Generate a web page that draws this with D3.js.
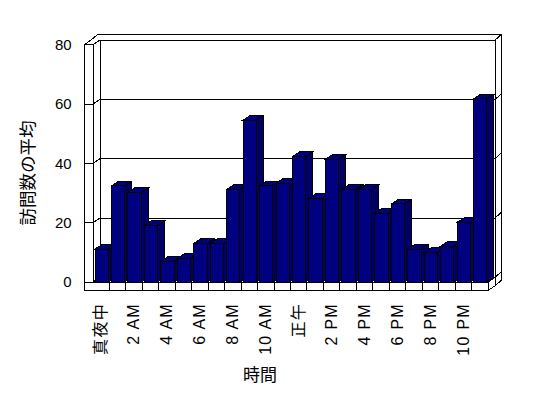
<!DOCTYPE html>
<html><head><meta charset="utf-8">
<script src="https://cdn.jsdelivr.net/npm/d3@7"></script>
<style>body{margin:0;background:#fff}svg{display:block}</style>
</head><body>
<script>
// ---- data ----
const hours = d3.range(24);
const visits = [11.1, 32.4, 30.2, 19.1, 7.0, 8.0, 13.0, 13.0, 31.2, 54.6, 32.4, 33.3,
                42.3, 28.2, 41.4, 31.2, 31.2, 23.2, 26.3, 11.1, 10.0, 12.1, 20.1, 61.7];
const labelHours = [0, 2, 4, 6, 8, 10, 12, 14, 16, 18, 20, 22];
const hourLabels = ["真夜中", "2 AM", "4 AM", "6 AM", "8 AM", "10 AM", "正午", "2 PM", "4 PM", "6 PM", "8 PM", "10 PM"];
const yTicks = [0, 20, 40, 60, 80];
const yTitle = "訪問数の平均";
const xTitle = "時間";

// ---- layout ----
const W = 548, H = 398;
const svg = d3.select("body").append("svg").attr("width", W).attr("height", H);
svg.append("rect").attr("width", W).attr("height", H).attr("fill", "#fff");

const x = d3.scaleBand().domain(hours).range([93, 488]);
const y = d3.scaleLinear().domain([0, 80]).range([282, 44.7]);
const D = [7, -4.6];      // depth of floor / bars
const T = [6.6, -5.9];    // wall thickness
const wallL = 84.7, floorBottom = 290.5;
const x0 = x.range()[0], x1 = x.range()[1], yTop = y(80), yZero = y(0);
const poly = pts => "M" + pts.map(p => p.join(",")).join("L") + "Z";
const seg = (a, b) => "M" + a.join(",") + "L" + b.join(",");

const g = svg.append("g").attr("shape-rendering", "crispEdges");
const face = (pts, fill) => g.append("path").attr("d", poly(pts)).attr("fill", fill)
  .attr("stroke", "#000").attr("stroke-width", 1).attr("stroke-linejoin", "miter");
const ln = (a, b) => g.append("path").attr("d", seg(a, b)).attr("stroke", "#000").attr("stroke-width", 1).attr("fill", "none");

// back wall inner face
face([[x0 + D[0], yTop + D[1]], [x1 + D[0], yTop + D[1]], [x1 + D[0], yZero + D[1]], [x0 + D[0], yZero + D[1]]], "#fff");
yTicks.forEach(v => ln([x0 + D[0], y(v) + D[1]], [x1 + D[0], y(v) + D[1]]));
// left wall inner face
face([[x0, yTop], [x0 + D[0], yTop + D[1]], [x0 + D[0], yZero + D[1]], [x0, yZero]], "#fff");
yTicks.forEach(v => ln([x0, y(v)], [x0 + D[0], y(v) + D[1]]));
// top of walls
face([[wallL, yTop], [x0, yTop], [x0 + D[0], yTop + D[1]], [x1 + D[0], yTop + D[1]],
      [x1 + D[0] + T[0], yTop + D[1] + T[1]], [wallL + D[0] + T[0], yTop + D[1] + T[1]]], "#fff");
// right face of back wall
face([[x1 + D[0], yTop + D[1]], [x1 + D[0] + T[0], yTop + D[1] + T[1]],
      [x1 + D[0] + T[0], floorBottom + D[1] + T[1]], [x1 + D[0], floorBottom + D[1]]], "#fff");
yTicks.forEach(v => ln([x1 + D[0], y(v) + D[1]], [x1 + D[0] + T[0], y(v) + D[1] + T[1]]));
// floor top & right
face([[x0, yZero], [x1, yZero], [x1 + D[0], yZero + D[1]], [x0 + D[0], yZero + D[1]]], "#fff");
face([[x1, yZero], [x1 + D[0], yZero + D[1]], [x1 + D[0], floorBottom + D[1]], [x1, floorBottom]], "#fff");
// front L (left wall front + floor front)
face([[wallL, yTop], [x0, yTop], [x0, yZero], [x1, yZero], [x1, floorBottom], [wallL, floorBottom]], "#fff");
yTicks.forEach(v => ln([wallL, y(v)], [x0, y(v)]));
hours.slice(1).forEach(h => ln([x(h), yZero], [x(h), floorBottom]));

// bars
const bw = 13.3, bOff = 2;
hours.forEach((h, i) => {
  const a = x(h) + bOff, b = a + bw, yt = y(visits[i]);
  face([[a, yt], [b, yt], [b, yZero], [a, yZero]], "#000080");
  face([[b, yZero], [b, yt], [b + D[0], yt + D[1]], [b + D[0], yZero + D[1]]], "#000066");
  face([[a, yt], [b, yt], [b + D[0], yt + D[1]], [a + D[0], yt + D[1]]], "#000080");
});

// y axis labels
const yAxis = d3.axisLeft(y).tickValues(yTicks).tickSize(0).tickPadding(13);
const ya = svg.append("g").attr("transform", `translate(${wallL},0)`).call(yAxis);
ya.select(".domain").remove();
ya.selectAll("text").attr("font-family", "'Liberation Sans', Arial, sans-serif")
  .attr("font-size", 15).attr("fill", "#000");

// x labels (rotated)
svg.append("g").selectAll("text").data(labelHours).join("text")
  .attr("transform", d => `translate(${x(d) + x.bandwidth() / 2 - 0.5},303) rotate(-90)`)
  .attr("text-anchor", "end").attr("dy", "0.36em")
  .attr("font-family", "'Liberation Sans', 'Noto Sans CJK JP', sans-serif")
  .attr("font-size", 16).attr("letter-spacing", 1.3).attr("fill", "#000")
  .text((d, i) => hourLabels[i]);

// titles
svg.append("text").attr("transform", "translate(28,173) rotate(-90)")
  .attr("text-anchor", "middle").attr("dy", "0.35em")
  .attr("font-family", "'Noto Sans CJK JP', sans-serif").attr("font-size", 17.5).attr("fill", "#000")
  .text(yTitle);
svg.append("text").attr("x", 260).attr("y", 375).attr("text-anchor", "middle").attr("dy", "0.35em")
  .attr("font-family", "'Noto Sans CJK JP', sans-serif").attr("font-size", 17).attr("fill", "#000")
  .text(xTitle);
</script>
</body></html>
